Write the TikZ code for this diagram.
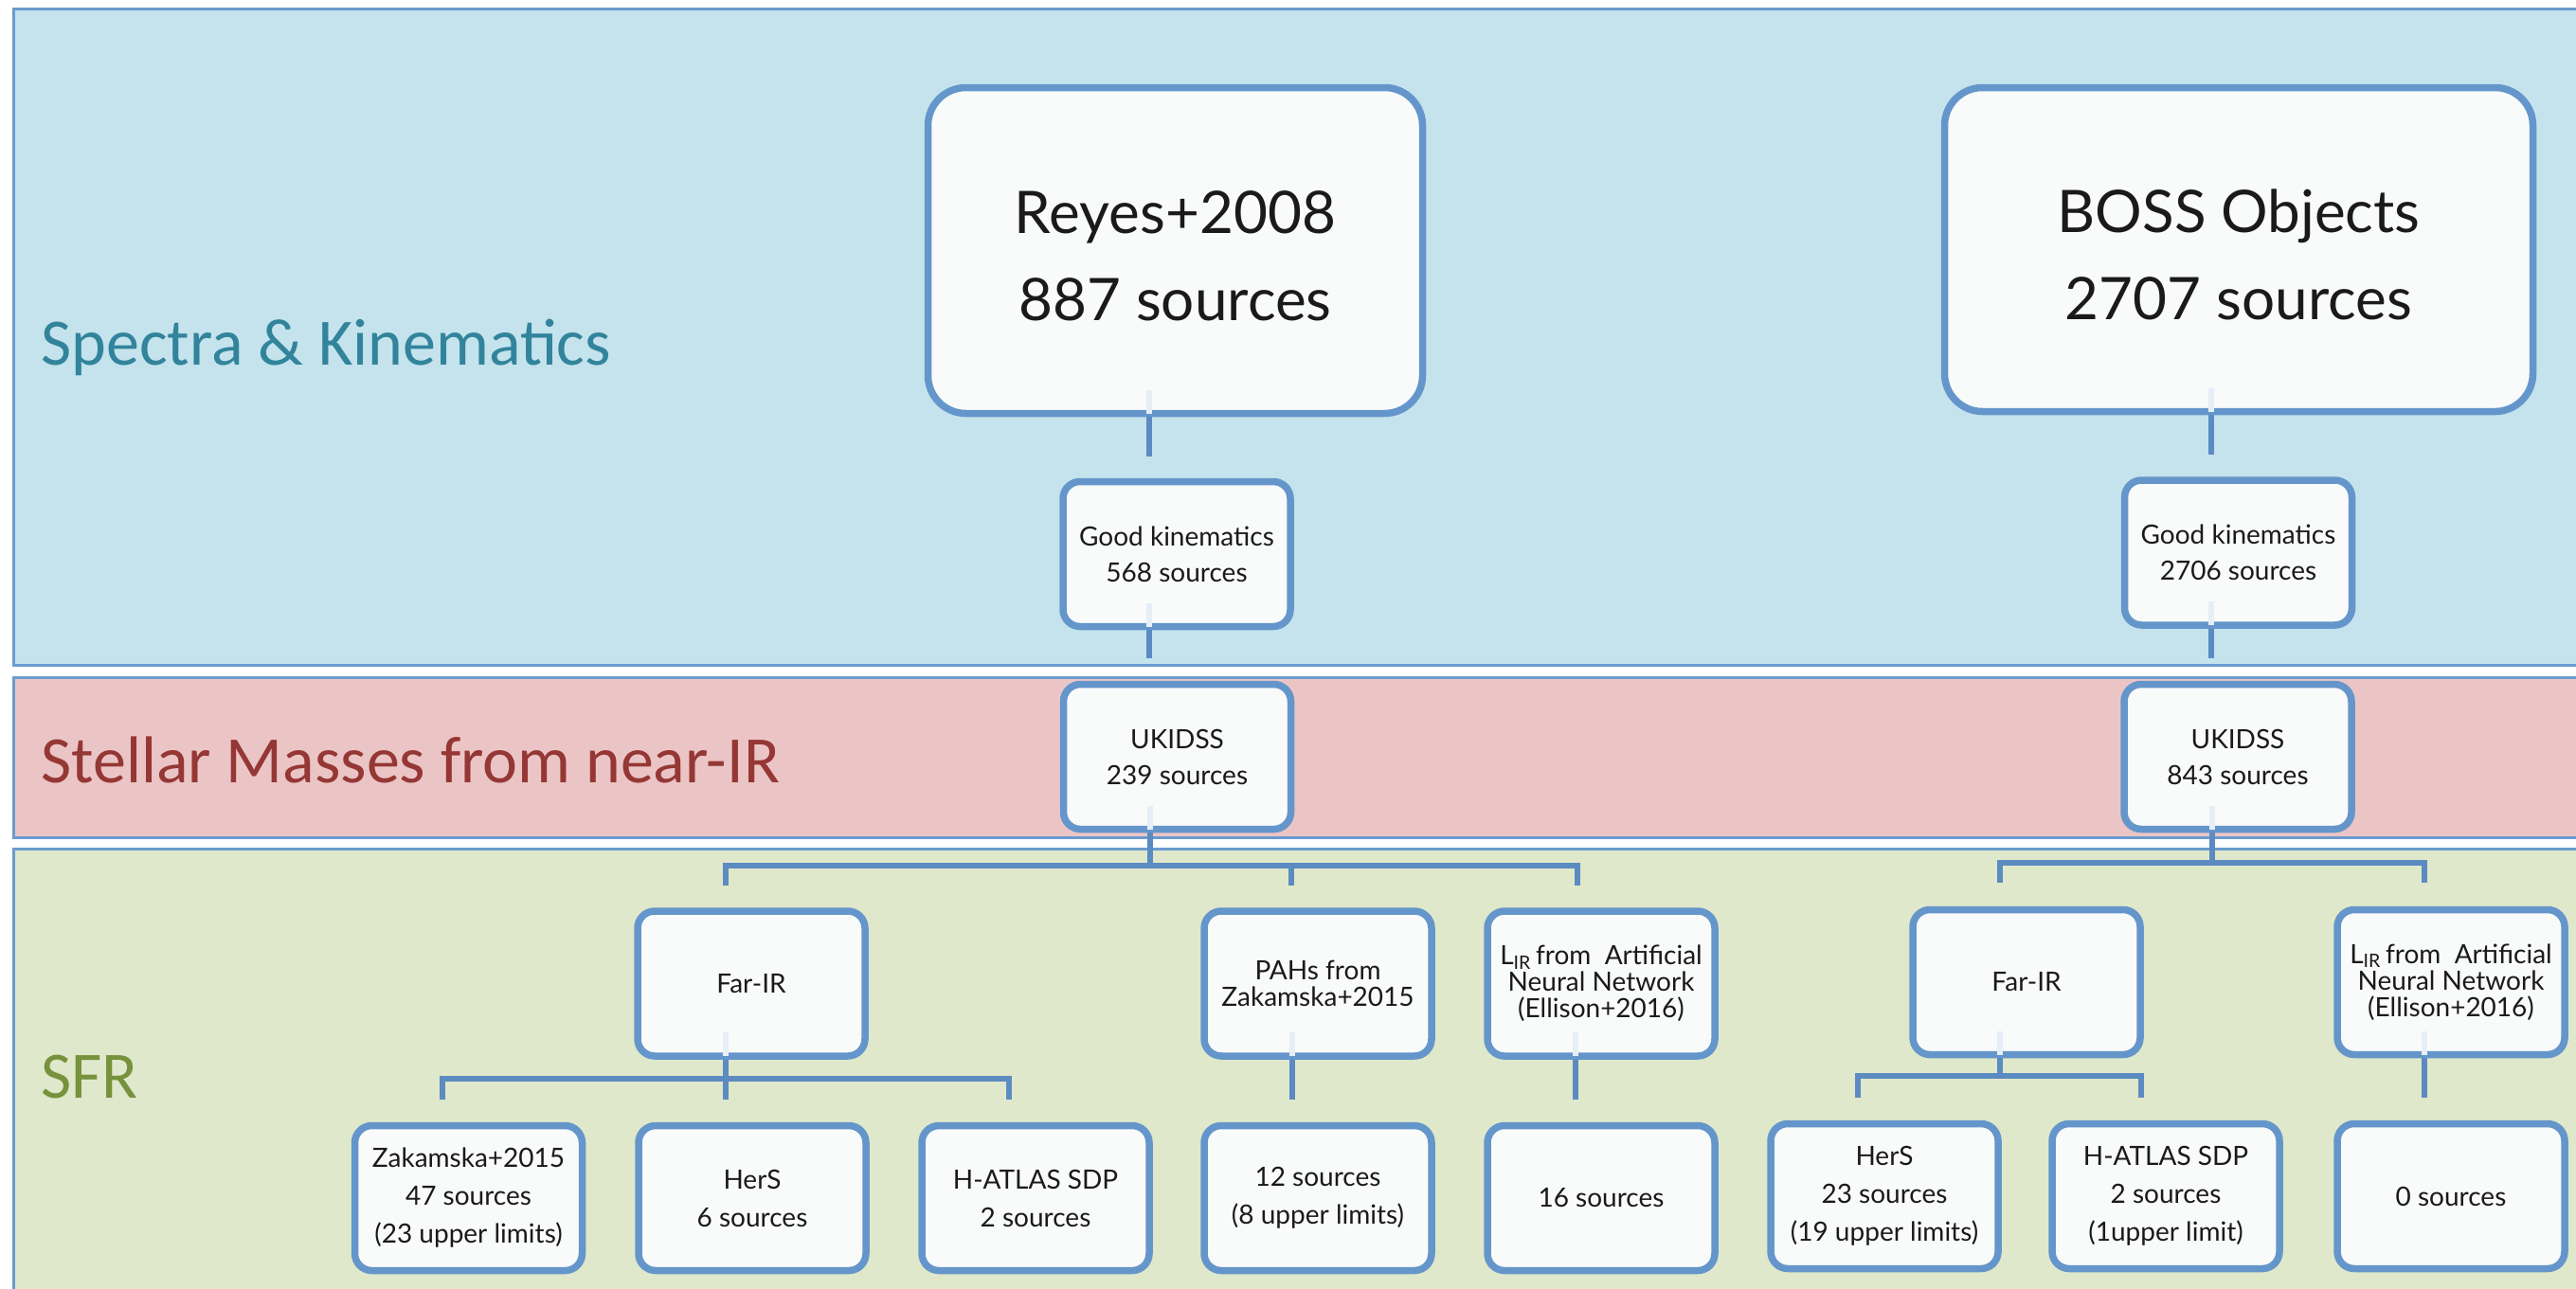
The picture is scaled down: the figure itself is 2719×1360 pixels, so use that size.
\documentclass[tikz,border=0pt]{standalone}
\usepackage{fontspec}
\setmainfont{Lato}
\newfontfamily\calib{Carlito}
\usetikzlibrary{calc}
\definecolor{bandblue}{HTML}{C4E3EC}
\definecolor{bandpink}{HTML}{EBC5C5}
\definecolor{bandgreen}{HTML}{DFE8CA}
\definecolor{bandline}{HTML}{6A9BD0}
\definecolor{boxline}{HTML}{6496CB}
\definecolor{boxfill}{HTML}{F9FAFA}
\definecolor{connc}{HTML}{5B8BC1}
\definecolor{faintc}{HTML}{E6EEF7}
\definecolor{labteal}{HTML}{31849B}
\definecolor{labred}{HTML}{953735}
\definecolor{labgreen}{HTML}{76923C}
\definecolor{txt}{HTML}{1A1A1A}
\begin{document}
\begin{tikzpicture}[x=0.5pt,y=-0.5pt,
  band/.style={draw=bandline,line width=1.5pt},
  bandlab/.style={anchor=base west,inner sep=0pt,font=\calib\fontsize{35pt}{42pt}\selectfont},
  bx/.style={draw=boxline,line width=3.75pt,fill=boxfill,rounded corners=9pt,align=center,
    inner sep=0pt,minimum width=120pt,minimum height=76.5pt,text=txt,
    font=\fontsize{14pt}{19pt}\selectfont},
  bxb/.style={bx,font=\fontsize{14pt}{20pt}\selectfont},
  bxt/.style={bx,font=\fontsize{14pt}{14pt}\selectfont},
  bigbx/.style={bx,rounded corners=20pt,font=\fontsize{31pt}{46pt}\selectfont},
  conn/.style={draw=connc,line width=3pt},
  faint/.style={draw=faintc,line width=3pt}]
\useasboundingbox (0,0) rectangle (2719,1360);
\clip (0,0) rectangle (2719,1360);
\fill[white] (0,0) rectangle (2719,1360);
% bands
\draw[band,fill=bandblue] (14,9) rectangle (2760,702);
\draw[band,fill=bandpink] (14,715) rectangle (2760,884);
\draw[band,fill=bandgreen] (14,896) rectangle (2760,1400);
\node[bandlab,text=labteal] (lab1) at (43,385) {Spectra \& Kinematics};
\node[bandlab,text=labred] (lab2) at (43,826) {Stellar Masses from near-IR};
\node[bandlab,text=labgreen] (lab3) at (43,1159) {SFR};
% big boxes
\node[bigbx,minimum width=261pt,minimum height=172pt] (reyes) at (1240.5,264.5) {\rule{0pt}{28pt}Reyes+2008\\887 sources};
\node[bigbx,minimum width=310.5pt,minimum height=171pt] (boss) at (2363,263.5) {\rule{0pt}{28pt}BOSS Objects\\2707 sources};
% medium boxes
\node[bx] (gk1) at (1242,585) {Good kinematics\\568 sources};
\node[bx] (gk2) at (2362.5,583.5) {Good kinematics\\2706 sources};
\node[bx] (uk1) at (1242.5,799) {UKIDSS\\239 sources};
\node[bx] (uk2) at (2362,799) {UKIDSS\\843 sources};
\node[bx] (far1) at (793,1038.5) {Far-IR};
\node[bxt] (pah) at (1391,1038.5) {PAHs from\\Zakamska+2015};
\node[bxt] (lir1) at (1690,1038.5) {L\textsubscript{IR}\,from\ \ Artificial\\Neural Network\\(Ellison+2016)};
\node[bx] (far2) at (2139,1037) {Far-IR};
\node[bxt] (lir2) at (2587,1037) {L\textsubscript{IR}\,from\ \ Artificial\\Neural Network\\(Ellison+2016)};
% bottom boxes
\node[bxb] (zak) at (494.5,1265) {Zakamska+2015\\47 sources\\(23 upper limits)};
\node[bxb] (hers1) at (794,1265) {HerS\\6 sources};
\node[bxb] (hat1) at (1093,1265) {H-ATLAS SDP\\2 sources};
\node[bxb] (s12) at (1391,1265) {12 sources\\(8 upper limits)};
\node[bxb] (s16) at (1690,1265) {16 sources};
\node[bxb] (hers2) at (1989,1263) {HerS\\23 sources\\(19 upper limits)};
\node[bxb] (hat2) at (2286,1263) {H-ATLAS SDP\\2 sources\\(1upper limit)};
\node[bxb] (s0) at (2587,1263) {0 sources};
% connector coordinates
\coordinate (k1) at (1213,482);
\coordinate (u1) at (1213,695);
\coordinate (k2) at (2334,480);
\coordinate (u2) at (2334,695);
\coordinate (b1) at (1214,914);
\coordinate (f1t) at (766,935);
\coordinate (p1t) at (1363,935);
\coordinate (l1t) at (1665,935);
\coordinate (b2) at (766,1139);
\coordinate (z1t) at (467,1161);
\coordinate (h1t) at (766,1161);
\coordinate (a1t) at (1065,1161);
\coordinate (s12t) at (1364,1161);
\coordinate (s16t) at (1663,1161);
\coordinate (b3) at (2335,911);
\coordinate (f2t) at (2111,932);
\coordinate (l2t) at (2559,932);
\coordinate (b4) at (2111,1136);
\coordinate (h2t) at (1961,1159);
\coordinate (a2t) at (2260,1159);
\coordinate (s0t) at (2559,1159);
% faint inner parts
\foreach \n/\c in {reyes/k1,gk1/u1,boss/k2,gk2/u2,uk1/b1,far1/b2,pah/s12t,lir1/s16t,uk2/b3,far2/b4,lir2/s0t}
  \draw[faint] ($(\n.south -| \c)+(0,-3.75)$) -- ++(0,-25);
% connectors
\draw[conn] (reyes.south -| k1) -- (k1);
\draw[conn] (gk1.south -| u1) -- (u1);
\draw[conn] (boss.south -| k2) -- (k2);
\draw[conn] (gk2.south -| u2) -- (u2);
\draw[conn] (uk1.south -| b1) -- (b1);
\draw[conn] (f1t) -- (f1t |- b1) -- (l1t |- b1) -- (l1t);
\draw[conn] (p1t |- b1) -- (p1t);
\draw[conn] (far1.south -| b2) -- (b2);
\draw[conn] (z1t) -- (z1t |- b2) -- (a1t |- b2) -- (a1t);
\draw[conn] (b2) -- (h1t);
\draw[conn] (pah.south -| s12t) -- (s12t);
\draw[conn] (lir1.south -| s16t) -- (s16t);
\draw[conn] (uk2.south -| b3) -- (b3);
\draw[conn] (f2t) -- (f2t |- b3) -- (l2t |- b3) -- (l2t);
\draw[conn] (far2.south -| b4) -- (b4);
\draw[conn] (h2t) -- (h2t |- b4) -- (a2t |- b4) -- (a2t);
\draw[conn] (lir2.south -| s0t) -- (s0t);
\end{tikzpicture}
\end{document}
